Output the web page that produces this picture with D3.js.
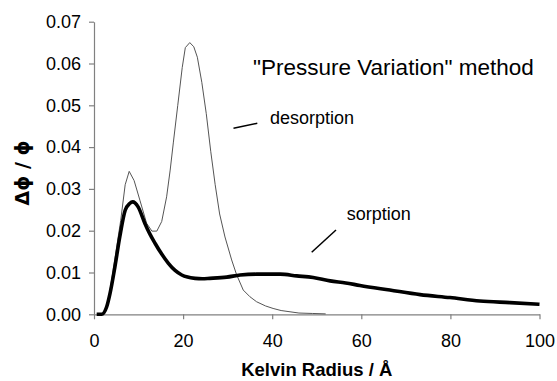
<!DOCTYPE html>
<html>
<head>
<meta charset="utf-8">
<script src="https://cdn.jsdelivr.net/npm/d3@7"></script>
<style>
  html, body { margin: 0; padding: 0; background: #fff; }
  svg { display: block; font-family: "Liberation Sans", Arial, sans-serif; }
</style>
</head>
<body>
<svg id="chart" width="557" height="381"></svg>
<script>
// Pore size distribution, "Pressure Variation" method
const xTicks = [0, 20, 40, 60, 80, 100];
const yTicks = [0, 0.01, 0.02, 0.03, 0.04, 0.05, 0.06, 0.07];

// desorption branch: Kelvin radius (Å) and Δφ/φ
const desorptionR = [1.0, 2.0, 3.0, 4.0, 5.0, 6.0, 7.0, 7.9, 9.0, 10.3, 11.8, 13.0, 14.1, 15.2, 16.3, 17.1, 17.8, 18.8, 19.8, 20.5, 21.5, 22.4, 23.2, 24.2, 25.2, 26.2, 27.2, 28.2, 29.4, 30.9, 32.0, 33.5, 35.0, 36.5, 38.5, 40.2, 42.0, 44.0, 46.0, 49.0, 52.0];
const desorptionV = [0, 0.0002, 0.002, 0.0085, 0.0155, 0.0225, 0.031, 0.0342, 0.032, 0.0273, 0.0218, 0.0199, 0.0199, 0.0222, 0.0281, 0.0345, 0.041, 0.050, 0.059, 0.0638, 0.065, 0.064, 0.0615, 0.0555, 0.048, 0.039, 0.031, 0.024, 0.0185, 0.013, 0.0095, 0.0058, 0.0042, 0.003, 0.002, 0.0014, 0.0009, 0.0006, 0.0003, 0.0002, 0.0001];

// sorption branch
const sorptionR = [0.6, 1.7, 2.85, 3.6, 4.7, 5.8, 7.0, 8.0, 8.7, 9.9, 11.4, 12.5, 13.7, 15.2, 16.7, 18.2, 19.7, 21.0, 22.7, 24.3, 26.0, 29.8, 32.8, 36.5, 41.8, 45.5, 49.2, 53.0, 56.5, 59.7, 66.4, 73.2, 79.9, 86.6, 93.4, 100];
const sorptionV = [0, 0, 0.0018, 0.005, 0.0114, 0.0186, 0.0249, 0.0265, 0.0269, 0.0257, 0.0218, 0.0193, 0.017, 0.0144, 0.0122, 0.0105, 0.0094, 0.0089, 0.0086, 0.0085, 0.0086, 0.0089, 0.0094, 0.0096, 0.0096, 0.0092, 0.0088, 0.008, 0.0075, 0.0069, 0.0058, 0.0047, 0.004, 0.0032, 0.0028, 0.0024];

const svg = d3.select("#chart");
const x = d3.scaleLinear().domain([0, 100]).range([94, 539.5]);
const y = d3.scaleLinear().domain([0, 0.07]).range([314.3, 21.7]);

const axisColor = "#808080";

// x axis
const gx = svg.append("g")
  .attr("transform", `translate(0,${y(0)})`)
  .call(d3.axisBottom(x).tickValues(xTicks).tickSize(5).tickSizeOuter(0).tickPadding(15).tickFormat(d3.format("d")));
// y axis
const gy = svg.append("g")
  .attr("transform", `translate(${x(0)},0)`)
  .call(d3.axisLeft(y).tickValues(yTicks).tickSize(5).tickSizeOuter(0).tickPadding(8).tickFormat(d3.format(".2f")));

[gx, gy].forEach(g => {
  g.select(".domain").attr("stroke", axisColor).attr("stroke-width", 1.2);
  g.selectAll(".tick line").attr("stroke", axisColor).attr("stroke-width", 1.2);
  g.selectAll(".tick text").attr("fill", "#000").style("font-size", "18px")
    .style("font-family", "'Liberation Sans', Arial, sans-serif");
});

const line = d3.line().x(d => x(d[0])).y(d => y(d[1]));

svg.append("path")
  .datum(d3.zip(desorptionR, desorptionV))
  .attr("fill", "none")
  .attr("stroke", "#555")
  .attr("stroke-width", 1)
  .attr("d", line);

svg.append("path")
  .datum(d3.zip(sorptionR, sorptionV))
  .attr("fill", "none")
  .attr("stroke", "#000")
  .attr("stroke-width", 3.6)
  .attr("stroke-linejoin", "round")
  .attr("d", line.curve(d3.curveMonotoneX));

// axis titles
svg.append("text")
  .attr("x", (x(0) + x(100)) / 2).attr("y", 376)
  .attr("text-anchor", "middle")
  .style("font-size", "18.5px").style("font-weight", "bold")
  .text("Kelvin Radius / Å");

svg.append("text")
  .attr("transform", "translate(29,173) rotate(-90)")
  .attr("text-anchor", "middle")
  .style("font-size", "19px").style("font-weight", "bold")
  .style("font-family", "'DejaVu Sans', 'Liberation Sans', sans-serif")
  .text("Δϕ / ϕ");

// annotations
svg.append("text").attr("x", 253).attr("y", 74.5)
  .style("font-size", "22.5px").text("\"Pressure Variation\" method");

svg.append("text").attr("x", 270).attr("y", 124)
  .style("font-size", "18px").text("desorption");
svg.append("line").attr("x1", 233.5).attr("y1", 128.3).attr("x2", 257.3).attr("y2", 123.3)
  .attr("stroke", "#000").attr("stroke-width", 1.5);

svg.append("text").attr("x", 346.7).attr("y", 220)
  .style("font-size", "18px").text("sorption");
svg.append("line").attr("x1", 311.7).attr("y1", 252.3).attr("x2", 336).attr("y2", 230)
  .attr("stroke", "#000").attr("stroke-width", 1.5);
</script>
</body>
</html>
